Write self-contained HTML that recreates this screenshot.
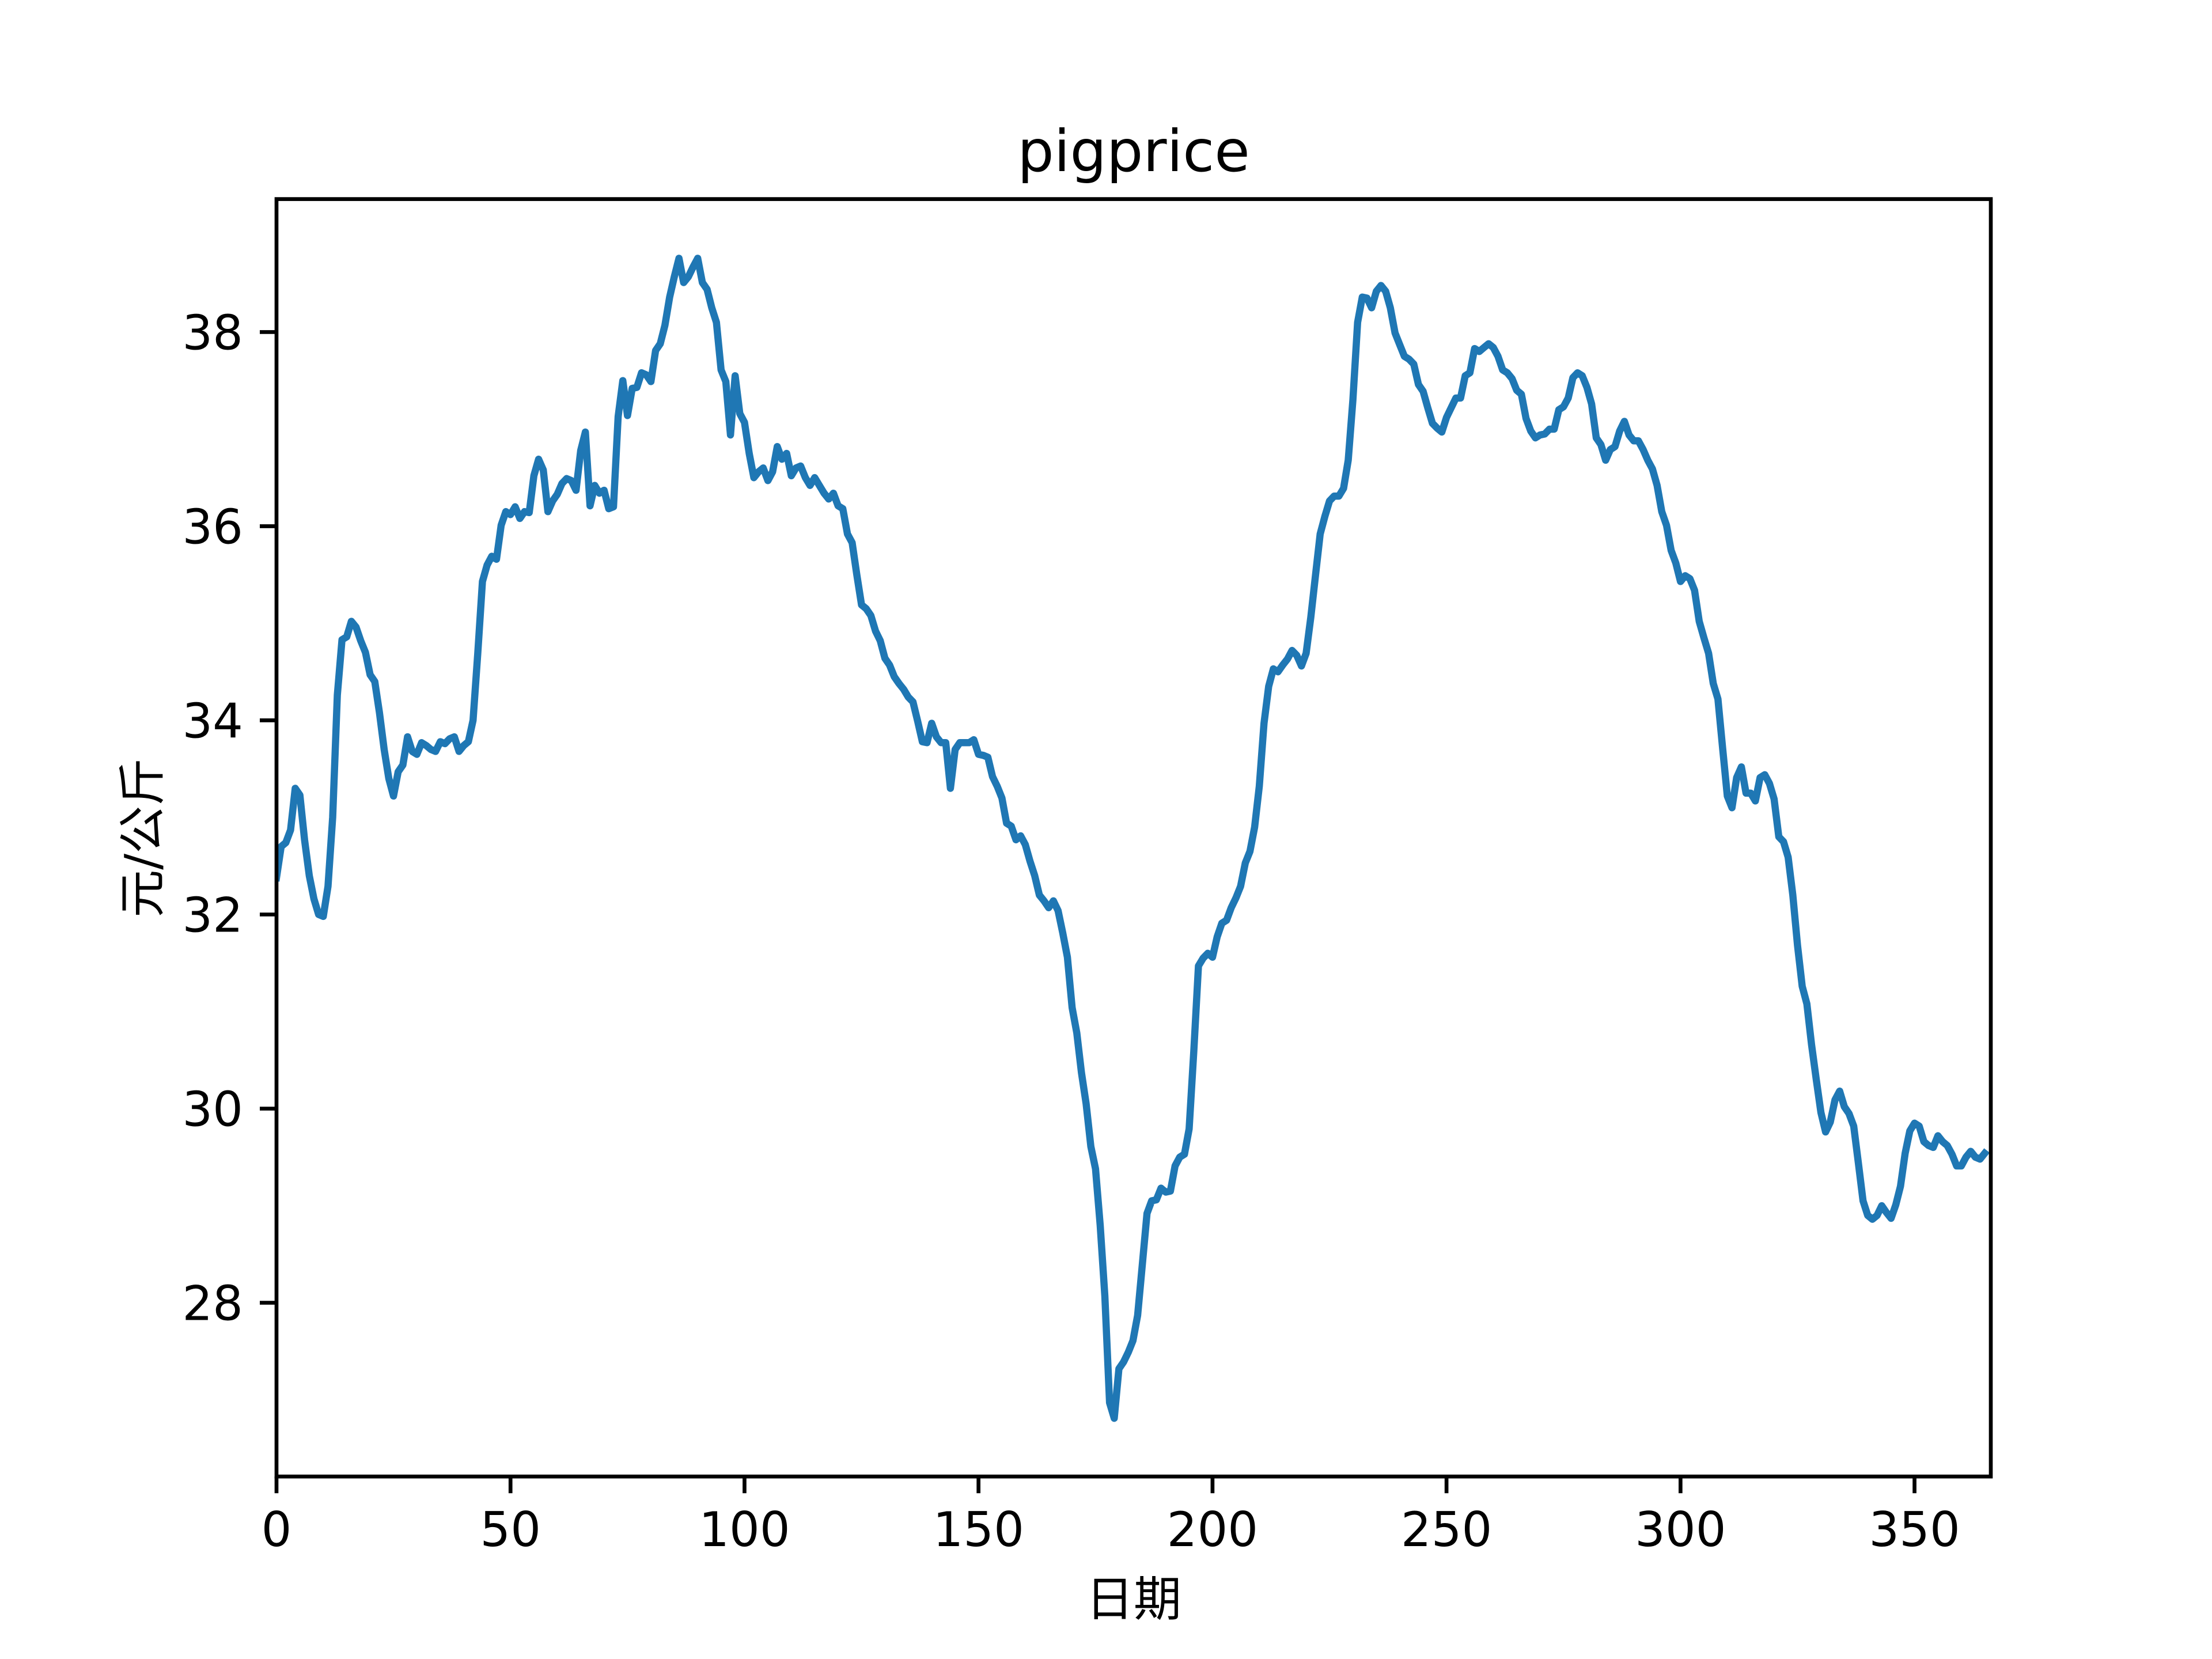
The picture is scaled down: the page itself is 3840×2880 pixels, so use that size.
<!DOCTYPE html>
<html><head><meta charset="utf-8"><style>html,body{margin:0;padding:0;background:#fff}svg{display:block}</style></head>
<body>
<svg id="chart" width="3840" height="2880" viewBox="0 0 3840 2880" xmlns="http://www.w3.org/2000/svg" font-family="'DejaVu Sans','Liberation Sans','Noto Sans CJK SC',sans-serif">
<rect width="3840" height="2880" fill="#fff"/>
<g id="plot"></g>
</svg>
<script>
const prices = [32.38,32.7,32.74,32.87,33.3,33.23,32.77,32.4,32.16,32.0,31.98,32.29,33.0,34.26,34.83,34.86,35.02,34.96,34.82,34.7,34.47,34.4,34.08,33.7,33.4,33.22,33.47,33.54,33.83,33.68,33.65,33.77,33.74,33.7,33.68,33.78,33.76,33.81,33.83,33.68,33.74,33.78,34.0,34.69,35.43,35.6,35.69,35.66,36.01,36.15,36.12,36.2,36.08,36.15,36.14,36.52,36.69,36.58,36.15,36.26,36.33,36.44,36.49,36.47,36.37,36.78,36.97,36.21,36.42,36.34,36.37,36.18,36.2,37.13,37.5,37.14,37.42,37.43,37.58,37.56,37.49,37.81,37.88,38.07,38.36,38.57,38.76,38.51,38.57,38.67,38.76,38.51,38.44,38.25,38.1,37.61,37.49,36.94,37.55,37.16,37.07,36.75,36.5,36.56,36.6,36.47,36.56,36.82,36.69,36.75,36.52,36.6,36.62,36.5,36.42,36.5,36.42,36.34,36.28,36.34,36.21,36.18,35.92,35.83,35.5,35.19,35.15,35.08,34.92,34.82,34.64,34.57,34.45,34.38,34.32,34.24,34.19,33.99,33.78,33.77,33.97,33.83,33.77,33.77,33.3,33.7,33.77,33.77,33.77,33.8,33.65,33.64,33.62,33.42,33.32,33.2,32.94,32.91,32.77,32.81,32.72,32.55,32.4,32.2,32.14,32.07,32.14,32.04,31.81,31.56,31.04,30.78,30.37,30.05,29.61,29.38,28.8,28.07,26.97,26.81,27.32,27.39,27.49,27.61,27.87,28.39,28.92,29.05,29.06,29.18,29.14,29.15,29.41,29.5,29.53,29.79,30.59,31.47,31.55,31.6,31.56,31.77,31.91,31.94,32.07,32.17,32.29,32.53,32.65,32.9,33.32,33.97,34.35,34.53,34.5,34.57,34.63,34.72,34.67,34.56,34.69,35.06,35.49,35.92,36.1,36.26,36.31,36.31,36.39,36.68,37.3,38.1,38.36,38.35,38.25,38.42,38.48,38.42,38.25,37.99,37.87,37.75,37.72,37.67,37.46,37.39,37.22,37.06,37.01,36.97,37.12,37.22,37.32,37.32,37.55,37.58,37.83,37.8,37.84,37.88,37.84,37.75,37.61,37.58,37.52,37.4,37.36,37.11,36.98,36.91,36.94,36.95,37.0,37.0,37.2,37.23,37.32,37.53,37.58,37.55,37.43,37.26,36.91,36.84,36.68,36.79,36.82,36.98,37.08,36.94,36.88,36.88,36.79,36.68,36.59,36.42,36.15,36.01,35.75,35.62,35.43,35.49,35.46,35.34,35.02,34.85,34.69,34.38,34.22,33.71,33.22,33.1,33.41,33.52,33.25,33.25,33.17,33.41,33.44,33.35,33.19,32.8,32.75,32.59,32.2,31.68,31.26,31.08,30.66,30.3,29.96,29.76,29.86,30.09,30.18,30.02,29.95,29.82,29.44,29.05,28.9,28.86,28.9,29.0,28.93,28.87,29.01,29.2,29.54,29.77,29.85,29.82,29.66,29.62,29.6,29.72,29.66,29.62,29.53,29.41,29.41,29.5,29.56,29.5,29.48,29.54];
const xTicks = [0,50,100,150,200,250,300,350];
const yTicks = [28,30,32,34,36,38];
const xDomain = [0,366.3];
const yDomain = [26.21,39.37];

const L=480,R=3456,T=345.6,B=2563.2;
const NS='http://www.w3.org/2000/svg';
const g=document.getElementById('plot');
const sx=v=>L+(v-xDomain[0])/(xDomain[1]-xDomain[0])*(R-L);
const sy=v=>B-(v-yDomain[0])/(yDomain[1]-yDomain[0])*(B-T);
function mk(tag,attrs,parent){const e=document.createElementNS(NS,tag);for(const k in attrs)e.setAttribute(k,attrs[k]);(parent||g).appendChild(e);return e;}

// line
let d='';
prices.forEach((p,i)=>{d+=(i?'L':'M')+sx(i).toFixed(1)+','+sy(p).toFixed(1);});
const clip=mk('clipPath',{id:'clip'});mk('rect',{x:L,y:T,width:R-L,height:B-T},clip);
const line=mk('path',{d:d,fill:'none',stroke:'#1f77b4','stroke-width':12.5,'stroke-linejoin':'round','stroke-linecap':'square','clip-path':'url(#clip)'});



// frame
const fr=mk('rect',{x:L,y:T,width:R-L,height:B-T,fill:'none',stroke:'#000','stroke-width':6.67});



xTicks.forEach(t=>{
  const x=sx(t);
  const tk=mk('line',{x1:x,x2:x,y1:B,y2:B+29,stroke:'#000','stroke-width':6.67});
  
  
  const tx=mk('text',{x:x,y:2684,'font-size':83,'text-anchor':'middle',fill:'#000'});
  tx.textContent=t;
  
  
});
yTicks.forEach(t=>{
  const y=sy(t);
  const tk=mk('line',{x1:L-29,x2:L,y1:y,y2:y,stroke:'#000','stroke-width':6.67});
  
  
  const tx=mk('text',{x:422,y:y+30,'font-size':83,'text-anchor':'end',fill:'#000'});
  tx.textContent=t;
  
  
});
const title=mk('text',{x:(L+R)/2,y:297,'font-size':100,'text-anchor':'middle',fill:'#000'});
title.textContent='pigprice';


const xl=mk('text',{x:(L+R)/2,y:2805,'font-size':83,'text-anchor':'middle',fill:'#000'});
xl.textContent='日期';


const yl=mk('text',{x:0,y:0,'font-size':83,'text-anchor':'middle',fill:'#000',transform:'translate(276,'+((T+B)/2)+') rotate(-90)'});
yl.textContent='元/公斤';


</script>
</body></html>
